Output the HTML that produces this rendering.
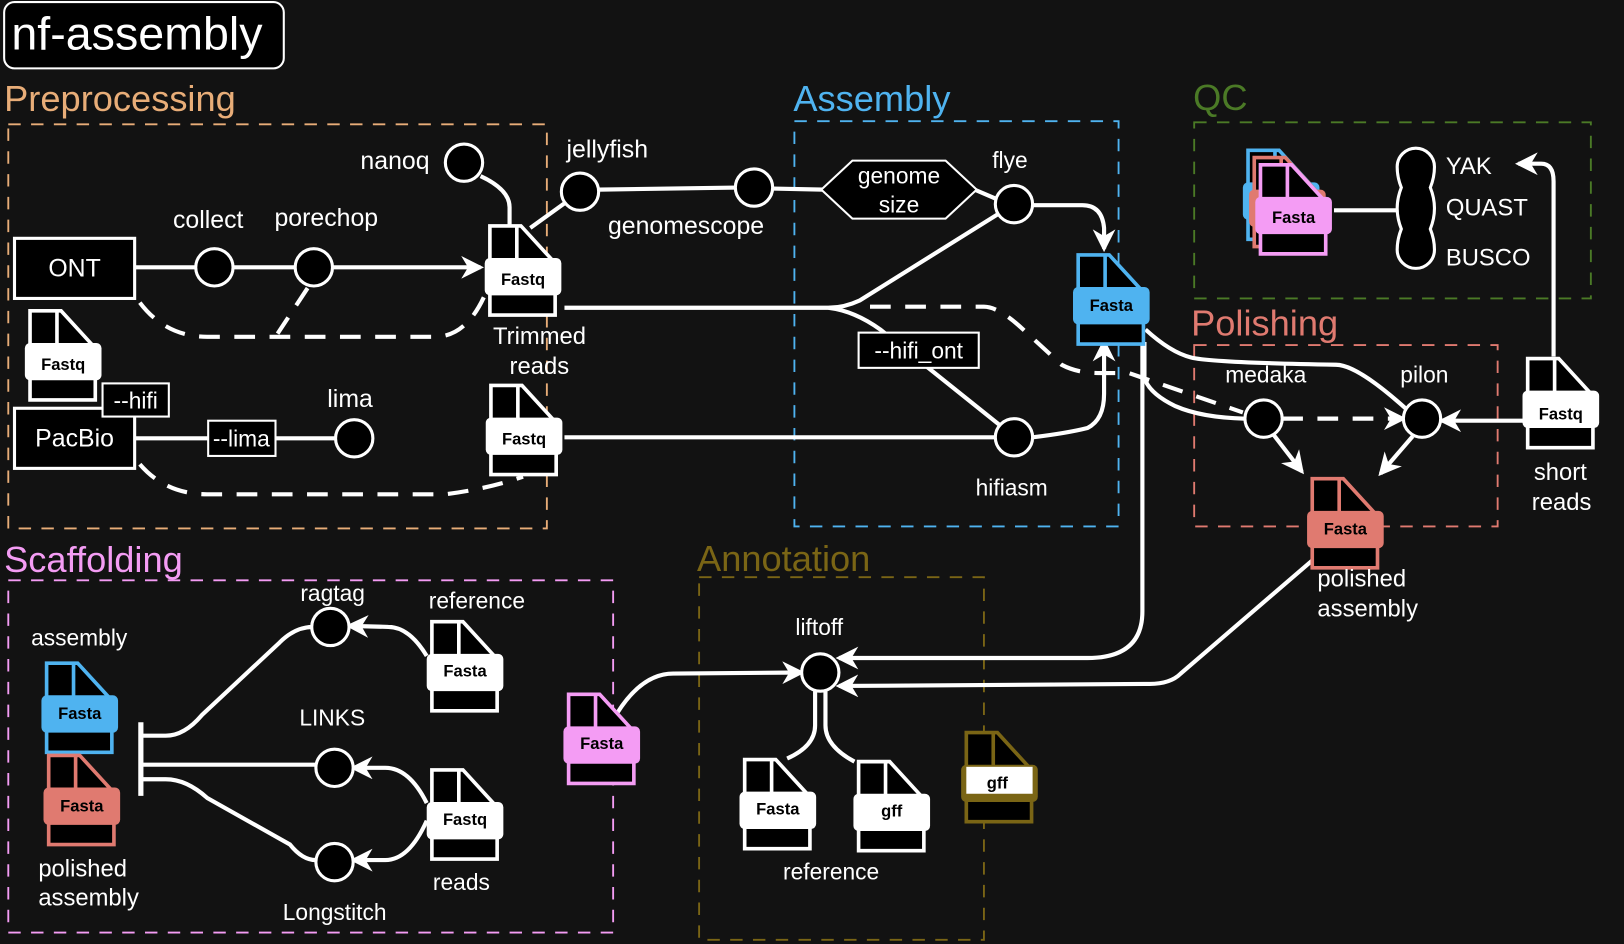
<!DOCTYPE html>
<html><head><meta charset="utf-8"><style>
html,body{margin:0;padding:0;background:#121212;}
svg{display:block;}
text{font-family:"Liberation Sans",sans-serif;fill:#fff;}
.lb{font-size:24px;}
.ft{font-size:16px;font-weight:bold;fill:#000;text-anchor:middle;}
.e{stroke:#fff;stroke-width:4;fill:none;}
.d{stroke:#fff;stroke-width:4;fill:none;stroke-dasharray:20 14;}
.n{fill:#000;stroke:#fff;stroke-width:3;}
.g{fill:none;stroke-width:1.8;stroke-dasharray:12 10;}
</style></head><body>
<svg width="1624" height="944" viewBox="0 0 1568 911" preserveAspectRatio="none" xmlns="http://www.w3.org/2000/svg">
<defs>
<marker id="a" viewBox="0 0 20 20" refX="17" refY="10" markerWidth="22" markerHeight="22" markerUnits="userSpaceOnUse" orient="auto">
<path d="M0,0 L20,10 L0,20 L6,10 z" fill="#fff"/>
</marker>
<g id="doc">
<path d="M5,2 H35 L68,38 V88 H5 Z" fill="#000" stroke="currentColor" stroke-width="3.5"/>
<rect x="9" y="5" width="20" height="30" fill="#000"/>
<line x1="31" y1="2" x2="31" y2="36" stroke="currentColor" stroke-width="3.5"/>
<rect x="0" y="33" width="74" height="36" rx="5" fill="currentColor"/>
<rect x="9" y="70" width="56" height="14" fill="#000"/>
</g>
</defs>
<rect width="1568" height="911" fill="#121212"/>

<rect x="8" y="120" width="520" height="390" class="g" stroke="#e8ad78"/>
<rect x="767" y="117" width="313" height="391" class="g" stroke="#4fb3f0"/>
<rect x="1153" y="118" width="383" height="170" class="g" stroke="#4b7a26"/>
<rect x="1153" y="333" width="293" height="175" class="g" stroke="#e07a70"/>
<rect x="8" y="560" width="584" height="340" class="g" stroke="#f49cf4"/>
<rect x="675" y="557" width="275" height="350" class="g" stroke="#7a6515"/>

<rect x="4" y="2" width="270" height="64" rx="10" fill="#000" stroke="#fff" stroke-width="2"/>
<text x="11" y="48" style="font-size:45px">nf-assembly</text>
<text x="4" y="107" style="font-size:35px;fill:#e8ad78">Preprocessing</text>
<text x="766" y="107" style="font-size:35px;fill:#4fb3f0">Assembly</text>
<text x="1152" y="106" style="font-size:35px;fill:#4b7a26">QC</text>
<text x="1150" y="324" style="font-size:35px;fill:#e07a70">Polishing</text>
<text x="4" y="552" style="font-size:35px;fill:#f49cf4">Scaffolding</text>
<text x="673" y="551" style="font-size:35px;fill:#7a6515">Annotation</text>

<path class="e" d="M130,258 H464" marker-end="url(#a)"/>
<path class="d" d="M135,292 Q160,325 200,325 H420 Q450,325 468,285"/>
<path class="d" d="M297,278 L268,322"/>
<path class="e" d="M464,170 Q492,183 492,200 V218"/>
<path class="e" d="M512,220 L548,194"/>
<path class="e" d="M578,183 L712,181"/>
<path class="e" d="M746,182 L795,183"/>
<path class="e" d="M941,183 L962,192"/>
<path class="e" d="M997,198 H1045 Q1064,198 1066,220 V240" marker-end="url(#a)"/>
<path class="e" d="M545,297 H800 Q815,297 830,290 L963,207"/>
<path class="e" d="M800,297 Q825,300 850,318 L965,410"/>
<path class="d" d="M840,296 H950 Q965,296 990,320 L1025,352 Q1040,360 1060,360 H1090 L1200,398"/>
<path class="e" d="M545,422 H962"/>
<path class="e" d="M997,422 Q1030,418 1050,413 Q1066,405 1066,380 V330" marker-end="url(#a)"/>
<path class="e" d="M130,423 H325"/>
<path class="d" d="M135,448 Q160,477 200,477 H430 Q470,472 505,460"/>
<path class="e" d="M1106,318 Q1130,340 1150,345 Q1170,350 1290,352 Q1310,352 1357,394"/>
<path class="e" d="M1105,330 V365 Q1110,380 1135,392 Q1160,403 1202,404"/>
<path class="e" d="M1103,330 V590 Q1103,635 1050,635 H810" marker-end="url(#a)"/>
<path class="d" d="M1238,404 H1355" marker-end="url(#a)"/>
<path class="e" d="M1230,420 L1257,455" marker-end="url(#a)"/>
<path class="e" d="M1364,421 L1333,457" marker-end="url(#a)"/>
<path class="e" d="M1470,406 H1392" marker-end="url(#a)"/>
<path class="e" d="M1500,344 V175 Q1500,158 1488,158 L1466,158" marker-end="url(#a)"/>
<path class="e" d="M1288,203 H1350"/>
<path class="e" d="M1268,540 L1140,650 Q1130,660 1110,660 L810,662" marker-end="url(#a)"/>
<path class="e" d="M596,688 Q620,650 650,650 L774,649" marker-end="url(#a)"/>
<path class="e" d="M787,667 V700 Q787,720 760,732"/>
<path class="e" d="M797,667 V700 Q797,720 825,735"/>
<path class="e" d="M136,697 V768" style="stroke-width:5"/>
<path class="e" d="M136,710 H160 Q178,710 195,690 L270,620 Q285,605 302,605"/>
<path class="e" d="M136,738 H305"/>
<path class="e" d="M136,752 H160 Q180,752 200,770 L280,815 Q292,830 305,830"/>
<path class="e" d="M412,633 Q395,605 375,605 L337,604" marker-end="url(#a)"/>
<path class="e" d="M412,775 Q395,741 372,741 L341,741" marker-end="url(#a)"/>
<path class="e" d="M412,792 Q395,830 372,830 L341,830" marker-end="url(#a)"/>

<circle class="n" cx="207" cy="258" r="18"/>
<circle class="n" cx="303" cy="258" r="18"/>
<circle class="n" cx="448" cy="157" r="18"/>
<circle class="n" cx="560" cy="185" r="18"/>
<circle class="n" cx="728" cy="181" r="18"/>
<circle class="n" cx="979" cy="197" r="18"/>
<circle class="n" cx="979" cy="422" r="18"/>
<circle class="n" cx="342" cy="423" r="18"/>
<circle class="n" cx="1220" cy="404" r="18"/>
<circle class="n" cx="1373" cy="404" r="18"/>
<circle class="n" cx="792" cy="649" r="18"/>
<circle class="n" cx="319" cy="605" r="18"/>
<circle class="n" cx="323" cy="741" r="18"/>
<circle class="n" cx="323" cy="832" r="18"/>
<path d="M1367,143 a18,18 0 0 1 18,18 q0,10 -4,20 q4,10 4,20 q0,10 -4,20 q4,10 4,20 a18,18 0 0 1 -36,0 q0,-10 4,-20 q-4,-10 -4,-20 q0,-10 4,-20 q-4,-10 -4,-20 a18,18 0 0 1 18,-18 z" fill="#000" stroke="#fff" stroke-width="3"/>
<polygon points="793,183 823,155 913,155 943,183 913,211 823,211" fill="#000" stroke="#fff" stroke-width="2"/>
<text x="868" y="177" class="lb" text-anchor="middle" style="font-size:22px">genome</text>
<text x="868" y="205" class="lb" text-anchor="middle" style="font-size:22px">size</text>

<rect x="14" y="230" width="116" height="58" fill="#000" stroke="#fff" stroke-width="3"/>
<text x="72" y="267" class="lb" text-anchor="middle">ONT</text>
<rect x="14" y="394" width="116" height="58" fill="#000" stroke="#fff" stroke-width="3"/>
<text x="72" y="431" class="lb" text-anchor="middle">PacBio</text>
<rect x="99" y="370" width="64" height="32" fill="#000" stroke="#fff" stroke-width="2"/>
<text x="131" y="394" class="lb" text-anchor="middle" style="font-size:22px">--hifi</text>
<rect x="201" y="406" width="65" height="34" fill="#000" stroke="#fff" stroke-width="2"/>
<text x="233" y="431" class="lb" text-anchor="middle" style="font-size:22px">--lima</text>
<rect x="829" y="321" width="116" height="34" fill="#000" stroke="#fff" stroke-width="2"/>
<text x="887" y="346" class="lb" text-anchor="middle" style="font-size:22px">--hifi_ont</text>

<g color="#fff"><use href="#doc" x="468" y="216"/><text x="505" y="275" class="ft">Fastq</text></g>
<g color="#fff"><use href="#doc" x="24" y="298"/><text x="61" y="357" class="ft">Fastq</text></g>
<g color="#fff"><use href="#doc" x="469" y="370"/><text x="506" y="429" class="ft">Fastq</text></g>
<g color="#4fb3f0"><use href="#doc" x="1036" y="244"/><text x="1073" y="300" class="ft">Fasta</text></g>
<g color="#4fb3f0"><use href="#doc" x="1200" y="143"/></g>
<g color="#e07a70"><use href="#doc" x="1206" y="150"/></g>
<g color="#f49cf4"><use href="#doc" x="1212" y="157"/><text x="1249" y="215" class="ft">Fasta</text></g>
<g color="#fff"><use href="#doc" x="1470" y="344"/><text x="1507" y="405" class="ft">Fastq</text></g>
<g color="#e07a70"><use href="#doc" x="1262" y="460"/><text x="1299" y="516" class="ft">Fasta</text></g>
<g color="#fff"><use href="#doc" x="412" y="598"/><text x="449" y="653" class="ft">Fasta</text></g>
<g color="#4fb3f0"><use href="#doc" x="40" y="638"/><text x="77" y="694" class="ft">Fasta</text></g>
<g color="#e07a70"><use href="#doc" x="42" y="727"/><text x="79" y="783" class="ft">Fasta</text></g>
<g color="#fff"><use href="#doc" x="412" y="741"/><text x="449" y="796" class="ft">Fastq</text></g>
<g color="#f49cf4"><use href="#doc" x="544" y="668"/><text x="581" y="723" class="ft">Fasta</text></g>
<g color="#fff"><use href="#doc" x="714" y="731"/><text x="751" y="786" class="ft">Fasta</text></g>
<g color="#fff"><use href="#doc" x="824" y="733"/><text x="861" y="788" class="ft">gff</text></g>
<g color="#7a6515"><use href="#doc" x="928" y="705"/><rect x="933" y="740" width="64" height="26" fill="#fff"/><text x="963" y="761" class="ft">gff</text></g>

<text x="348" y="163" class="lb">nanoq</text>
<text x="167" y="220" class="lb">collect</text>
<text x="265" y="218" class="lb">porechop</text>
<text x="547" y="152" class="lb">jellyfish</text>
<text x="587" y="226" class="lb">genomescope</text>
<text x="958" y="162" class="lb" style="font-size:22px">flye</text>
<text x="942" y="478" class="lb" style="font-size:22px">hifiasm</text>
<text x="476" y="332" class="lb" style="font-size:23px">Trimmed</text>
<text x="492" y="361" class="lb" style="font-size:23px">reads</text>
<text x="316" y="393" class="lb">lima</text>
<text x="1183" y="369" class="lb" style="font-size:22px">medaka</text>
<text x="1352" y="369" class="lb" style="font-size:22px">pilon</text>
<text x="1396" y="168" class="lb" style="font-size:23px">YAK</text>
<text x="1396" y="208" class="lb" style="font-size:23px">QUAST</text>
<text x="1396" y="256" class="lb" style="font-size:23px">BUSCO</text>
<text x="1481" y="463" class="lb" style="font-size:23px">short</text>
<text x="1479" y="492" class="lb" style="font-size:23px">reads</text>
<text x="1272" y="566" class="lb" style="font-size:23px">polished</text>
<text x="1272" y="595" class="lb" style="font-size:23px">assembly</text>
<text x="768" y="613" class="lb" style="font-size:22px">liftoff</text>
<text x="756" y="849" class="lb" style="font-size:22px">reference</text>
<text x="290" y="580" class="lb" style="font-size:22px">ragtag</text>
<text x="414" y="587" class="lb" style="font-size:22px">reference</text>
<text x="30" y="623" class="lb" style="font-size:22px">assembly</text>
<text x="289" y="700" class="lb" style="font-size:22px">LINKS</text>
<text x="418" y="859" class="lb" style="font-size:22px">reads</text>
<text x="273" y="888" class="lb" style="font-size:22px">Longstitch</text>
<text x="37" y="846" class="lb" style="font-size:23px">polished</text>
<text x="37" y="874" class="lb" style="font-size:23px">assembly</text>
</svg>
</body></html>
